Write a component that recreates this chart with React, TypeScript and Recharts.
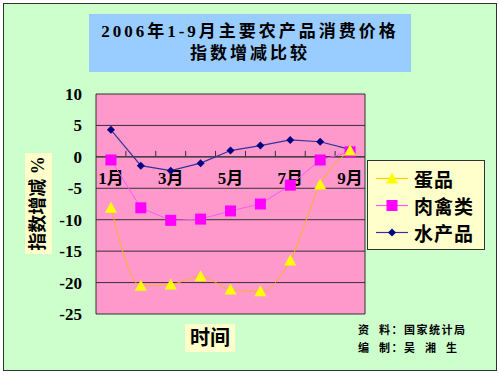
import React from 'react';
import { LineChart, Line, XAxis, YAxis, CartesianGrid, ReferenceLine, Legend } from 'recharts';

// values (%, change of price index)
const months = ['1月', '2月', '3月', '4月', '5月', '6月', '7月', '8月', '9月'];
const eggValues = [-8.1, -20.5, -20.3, -19.0, -21.1, -21.4, -16.5, -4.4, 1.0];
const meatValues = [-0.5, -8.1, -10.1, -9.9, -8.6, -7.5, -4.5, -0.5, 0.8];
const aquaticValues = [4.3, -1.4, -2.2, -1.0, 1.0, 1.8, 2.7, 2.4, 1.2];
const yTicks = [-25, -20, -15, -10, -5, 0, 5, 10];

const FONT = "'Times New Roman', 'Liberation Serif', 'Noto Sans CJK SC', serif";

const chartData = months.map((month, i) => ({
  month,
  egg: eggValues[i],
  meat: meatValues[i],
  aquatic: aquaticValues[i],
}));

const TriangleDot = (props: any) => {
  const { cx, cy } = props;
  if (cx == null || cy == null) return null;
  return <polygon points={`${cx},${cy - 6} ${cx - 6},${cy + 5} ${cx + 6},${cy + 5}`} fill="#FFFF00" />;
};

const SquareDot = (props: any) => {
  const { cx, cy } = props;
  if (cx == null || cy == null) return null;
  return <rect x={cx - 5.5} y={cy - 5.5} width={11} height={11} fill="#FF00FF" />;
};

const DiamondDot = (props: any) => {
  const { cx, cy } = props;
  if (cx == null || cy == null) return null;
  return <polygon points={`${cx},${cy - 4} ${cx + 4},${cy} ${cx},${cy + 4} ${cx - 4},${cy}`} fill="#000080" />;
};

// legend order as in the picture
const legendItems = [
  { name: '蛋品', stroke: '#FFD000', Dot: TriangleDot },
  { name: '肉禽类', stroke: '#FF55FF', Dot: SquareDot },
  { name: '水产品', stroke: '#333399', Dot: DiamondDot },
];

// category axis drawn on the zero line, as in the Excel original
const ZeroAxis = (props: any) => {
  const { viewBox } = props;
  if (!viewBox) return null;
  const { x, y, width } = viewBox;
  const step = width / months.length;
  return (
    <g>
      {months.map((m, i) =>
        i > 0 ? <line key={'t' + m} x1={x + i * step} x2={x + i * step} y1={y} y2={y - 6} stroke="#333" /> : null
      )}
      {months.map((m, i) =>
        i % 2 === 0 ? (
          <text
            key={'l' + m}
            x={x + (i + 0.5) * step}
            y={y + 22}
            textAnchor="middle"
            dominantBaseline="central"
            fontSize={17}
            fontWeight="bold"
            fontFamily={FONT}
            fill="#000"
          >
            {m}
          </text>
        ) : null
      )}
    </g>
  );
};

const renderLegend = () => (
  <div
    style={{
      width: 116,
      height: 84,
      background: '#FFFFCC',
      border: '1px solid #333',
      paddingTop: 4,
      boxSizing: 'content-box',
    }}
  >
    {legendItems.map(({ name, stroke, Dot }) => (
      <div key={name} style={{ height: 27, display: 'flex', alignItems: 'center' }}>
        <svg width={46} height={27}>
          <line x1={8} x2={40} y1={13.5} y2={13.5} stroke={stroke} strokeWidth={1.2} />
          <Dot cx={24} cy={13.5} />
        </svg>
        <span style={{ fontFamily: FONT, fontWeight: 'bold', fontSize: 19, color: '#000', letterSpacing: 1 }}>{name}</span>
      </div>
    ))}
  </div>
);

const App: React.FC = () => {
  return (
    <div style={{ position: 'absolute', left: 0, top: 0, width: 500, height: 375, background: '#fff' }}>
      <div
        style={{
          position: 'absolute',
          left: 3,
          top: 3,
          width: 492,
          height: 366,
          background: '#CCFFCC',
          border: '1px solid #333',
        }}
      />
      <div
        style={{
          position: 'absolute',
          left: 89,
          top: 14,
          width: 322,
          height: 58,
          background: '#99CCFF',
          textAlign: 'center',
          fontFamily: FONT,
          fontWeight: 'bold',
          fontSize: 17,
          lineHeight: '22px',
          paddingTop: 7,
          boxSizing: 'border-box',
          letterSpacing: 3,
          color: '#000',
        }}
      >
        2006年1-9月主要农产品消费价格
        <br />
        指数增减比较
      </div>

      <div style={{ position: 'absolute', left: 0, top: 0 }}>
        <LineChart width={500} height={375} data={chartData} margin={{ top: 94, right: 135, bottom: 61, left: 36 }}>
          <CartesianGrid
            fill="#FF99CC"
            fillOpacity={1}
            stroke="#333"
            horizontalValues={yTicks}
            verticalCoordinatesGenerator={({ offset }: any) => [offset.left, offset.left + offset.width]}
          />
          <XAxis dataKey="month" scale="band" hide />
          <YAxis
            width={60}
            domain={[-25, 10]}
            ticks={yTicks}
            interval={0}
            axisLine={false}
            tickLine={false}
            tickMargin={8}
            tick={{ fontSize: 17, fontWeight: 'bold', fontFamily: FONT, fill: '#000' }}
          />
          <ReferenceLine y={0} stroke="#333" label={<ZeroAxis />} />
          <Legend
            layout="vertical"
            align="center"
            verticalAlign="middle"
            content={renderLegend}
            wrapperStyle={{ left: 367, top: 160, width: 118 }}
          />
          <Line
            dataKey="aquatic"
            name="水产品"
            type="linear"
            stroke="#333399"
            strokeWidth={1.2}
            dot={<DiamondDot />}
            activeDot={false}
            isAnimationActive={false}
          />
          <Line
            dataKey="meat"
            name="肉禽类"
            type="linear"
            stroke="#FF55FF"
            strokeWidth={1}
            dot={<SquareDot />}
            activeDot={false}
            isAnimationActive={false}
          />
          <Line
            dataKey="egg"
            name="蛋品"
            type="monotone"
            stroke="#FFB020"
            strokeWidth={1}
            dot={<TriangleDot />}
            activeDot={false}
            isAnimationActive={false}
          />
        </LineChart>
      </div>

      <div
        style={{
          position: 'absolute',
          left: 25,
          top: 153,
          width: 27,
          height: 101,
          background: '#FFFFCC',
        }}
      >
        <div
          style={{
            position: 'absolute',
            left: 13.5 - 50.5,
            top: 50.5 - 13.5,
            width: 101,
            height: 27,
            lineHeight: '27px',
            textAlign: 'center',
            transform: 'rotate(-90deg)',
            fontFamily: FONT,
            fontWeight: 'bold',
            fontSize: 18,
            whiteSpace: 'nowrap',
            color: '#000',
          }}
        >
          指数增减 %
        </div>
      </div>

      <div
        style={{
          position: 'absolute',
          left: 185,
          top: 324,
          width: 50,
          height: 28,
          lineHeight: '28px',
          background: '#FFFFCC',
          textAlign: 'center',
          fontFamily: FONT,
          fontWeight: 'bold',
          fontSize: 20,
          color: '#000',
        }}
      >
        时间
      </div>

      <div
        style={{
          position: 'absolute',
          left: 358,
          top: 321,
          fontFamily: FONT,
          fontWeight: 'bold',
          fontSize: 11,
          lineHeight: '18px',
          letterSpacing: 1.5,
          whiteSpace: 'pre',
          color: '#000',
        }}
      >
        {'资  料：国家统计局\n编  制：吴  湘  生'}
      </div>
    </div>
  );
};

export default App;
